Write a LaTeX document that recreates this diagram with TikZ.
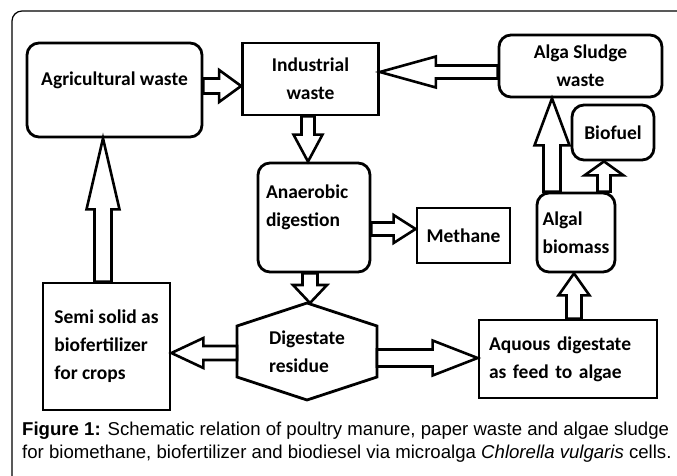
\documentclass[tikz,border=0pt]{standalone}
\usepackage{fontspec}
\setmainfont{Liberation Sans}
\newfontfamily\boxfont{Carlito}
\usetikzlibrary{calc}

\newcommand{\lift}[2]{\raisebox{#1}[\height][\depth]{#2}}
\newcommand{\fatarrow}[5]{%
    \coordinate (fa-s) at (#1);
    \coordinate (fa-e) at (#2);
    \coordinate (fa-b) at ($(fa-e)!#5pt!(fa-s)$);
    \draw[fatarrow] ($(fa-s)!#3pt!90:(fa-e)$) -- ($(fa-b)!#3pt!-90:(fa-s)$)
        -- ($(fa-b)!#4pt!-90:(fa-s)$) -- (fa-e) -- ($(fa-b)!#4pt!90:(fa-s)$)
        -- ($(fa-b)!#3pt!90:(fa-s)$) -- ($(fa-s)!#3pt!-90:(fa-e)$) -- cycle;
}

\tikzset{
    boxtext/.style={font=\boxfont\bfseries\fontsize{19.5}{28}\selectfont},
    box/.style={boxtext, draw, line width=2.8pt, fill=white, inner sep=0pt},
    rbox/.style={box, rounded corners=12pt},
    fatarrow/.style={draw, line width=2.6pt, fill=white},
}

\begin{document}
\begin{tikzpicture}[x=1pt, y=1pt]
    \clip (0,0) rectangle (677,475);
    \fill[white] (0,0) rectangle (677,475);
    \draw[line width=1.2pt, rounded corners=10pt] (700,464) -- (12,464) -- (12,-20);

    \node[rbox, minimum width=175pt, minimum height=94pt] (agri) at (114.5,385) {\lift{10pt}{Agricultural waste}};
    \node[box, minimum width=136pt, minimum height=72pt, align=center] (ind) at (310.5,396) {Industrial\\waste};
    \node[rbox, minimum width=163pt, minimum height=62pt, align=center] (sludge) at (580.5,409) {Alga Sludge\\waste};
    \node[rbox, minimum width=82pt, minimum height=55pt] (biofuel) at (613,342.5) {Biofuel};
    \node[rbox, minimum width=112pt, minimum height=109pt, text width=96pt, inner xsep=8pt, align=left] (anaer) at (314,257.5)
        {\lift{11pt}{\begin{tabular}{@{}l@{}}Anaerobic\\digestion\end{tabular}}};
    \node[box, minimum width=93pt, minimum height=55pt] (methane) at (463.5,239.5) {Methane};
    \node[rbox, minimum width=78pt, minimum height=79pt, align=left] (algal) at (576,242.5) {Algal\\biomass};
    \node[box, minimum width=178pt, minimum height=78pt, text width=158pt, inner xsep=10pt, align=left] (aquous) at (568,116)
        {Aquous digestate\\as feed to algae};
    \node[box, minimum width=127pt, minimum height=127pt, align=left] (semi) at (106.5,128.5)
        {Semi solid as\\biofertilizer\\for crops};

    % digestate hexagon
    \node[boxtext, align=left] (dig) at (307,123.5) {Digestate\\residue};
    \coordinate (dig-t) at ($(dig.center)+(0,48.5)$);
    \coordinate (dig-tr) at ($(dig.center)+(70,25.5)$);
    \coordinate (dig-br) at ($(dig.center)+(70,-25.5)$);
    \coordinate (dig-b) at ($(dig.center)+(0,-48.5)$);
    \coordinate (dig-bl) at ($(dig.center)+(-70,-25.5)$);
    \coordinate (dig-tl) at ($(dig.center)+(-70,25.5)$);
    \coordinate (dig-l) at ($(dig.center)+(-70,0)$);
    \coordinate (dig-r) at ($(dig.center)+(70,0)$);
    \draw[line width=2.8pt] (dig-t) -- (dig-tr) -- (dig-br) -- (dig-b) -- (dig-bl) -- (dig-tl) -- cycle;

    \fatarrow{[yshift=4pt]agri.east}{fa-s -| ind.west}{7.5}{16}{22}
    \fatarrow{[yshift=-6pt]sludge.west}{fa-s -| ind.east}{6.5}{15.5}{56}
    \fatarrow{[xshift=-2.5pt]ind.south}{fa-s |- anaer.north}{6.5}{14.5}{27}
    \fatarrow{[yshift=-11.5pt]anaer.east}{fa-s -| methane.west}{6.5}{14}{22}
    \fatarrow{[xshift=-4pt]anaer.south}{fa-s |- dig-t}{7.5}{17}{18}
    \fatarrow{[yshift=-1.5pt]dig-l}{fa-s -| semi.east}{7}{15}{32}
    \fatarrow{[yshift=-6.5pt]dig-r}{fa-s -| aquous.west}{8.5}{17.5}{45}
    \fatarrow{[xshift=6pt]aquous.north}{fa-s |- algal.south}{7.5}{15.5}{22}
    \fatarrow{[xshift=-24pt]algal.north}{fa-s |- sludge.south}{8.5}{17.5}{47}
    \fatarrow{[xshift=28pt]algal.north}{fa-s |- biofuel.south}{6.5}{19.5}{14}
    \fatarrow{[xshift=-3.5pt]semi.north}{fa-s |- agri.south}{8.5}{16.5}{71}

    \node[anchor=north west, align=left, inner sep=0pt, font=\fontsize{18.6}{23}\selectfont] (cap) at (22,53)
        {\textbf{Figure 1:} Schematic relation of poultry manure, paper waste and algae sludge\\
        for biomethane, biofertilizer and biodiesel via microalga \textit{Chlorella vulgaris} cells.};
\end{tikzpicture}
\end{document}
